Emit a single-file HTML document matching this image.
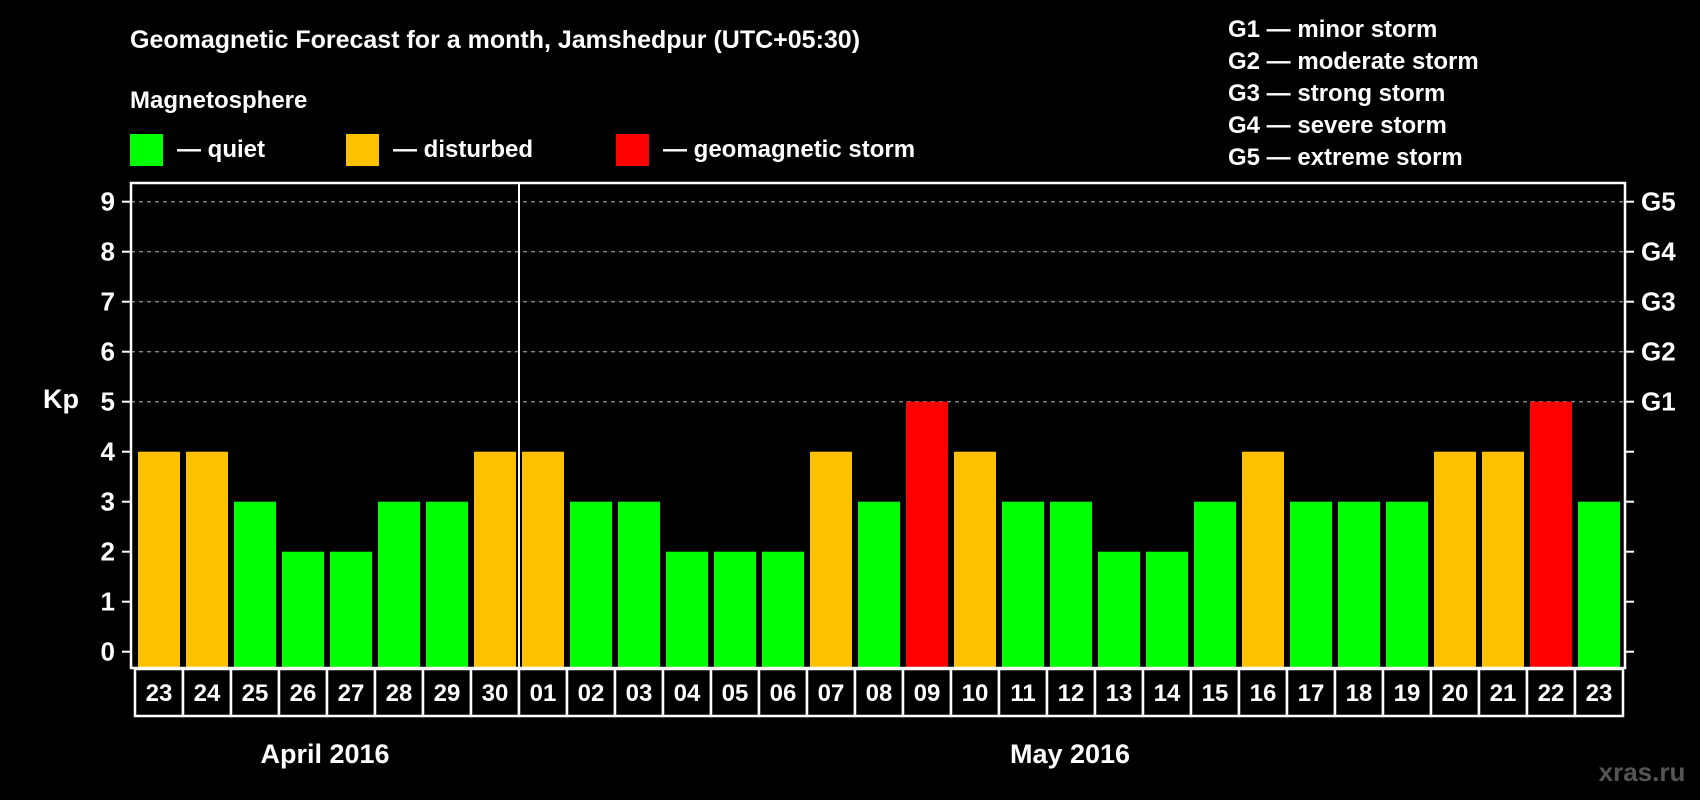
<!DOCTYPE html>
<html><head><meta charset="utf-8"><style>
html,body{margin:0;padding:0;background:#000;}
svg{display:block;font-family:"Liberation Sans",Arial,sans-serif;font-weight:bold;}
</style></head><body>
<svg id="chart" width="1700" height="800" viewBox="0 0 1700 800" xmlns="http://www.w3.org/2000/svg">
<rect width="1700" height="800" fill="#000"/>
<text x="130" y="48" fill="#fff" font-size="25">Geomagnetic Forecast for a month, Jamshedpur (UTC+05:30)</text>
<text x="130" y="108" fill="#fff" font-size="24">Magnetosphere</text>
<g><rect x="130" y="134" width="33" height="32" fill="#00ff00"/><text x="177" y="157" fill="#fff" font-size="24">— quiet</text></g>
<g><rect x="346" y="134" width="33" height="32" fill="#ffc000"/><text x="393" y="157" fill="#fff" font-size="24">— disturbed</text></g>
<g><rect x="616" y="134" width="33" height="32" fill="#ff0000"/><text x="663" y="157" fill="#fff" font-size="24">— geomagnetic storm</text></g>
<g fill="#fff" font-size="24">
<text x="1228" y="37">G1 — minor storm</text>
<text x="1228" y="69">G2 — moderate storm</text>
<text x="1228" y="101">G3 — strong storm</text>
<text x="1228" y="133">G4 — severe storm</text>
<text x="1228" y="165">G5 — extreme storm</text>
</g>
<text x="43" y="408" fill="#fff" font-size="27">Kp</text>
<g id="grid"></g>
<g id="bars"></g>
<rect x="131" y="183" width="1494" height="485" fill="none" stroke="#fff" stroke-width="2.5"/>
<line x1="519" y1="183" x2="519" y2="668" stroke="#fff" stroke-width="2"/>
<g id="axes"></g>
<g id="dates"></g>
<text x="325" y="763" fill="#fff" font-size="27" text-anchor="middle">April 2016</text>
<text x="1070" y="763" fill="#fff" font-size="27" text-anchor="middle">May 2016</text>
<text x="1642" y="781" fill="#555" font-size="26" text-anchor="middle">xras.ru</text>
</svg>
<script>
const days = ["23","24","25","26","27","28","29","30","01","02","03","04","05","06","07","08","09","10","11","12","13","14","15","16","17","18","19","20","21","22","23"];
const kp = [4,4,3,2,2,3,3,4,4,3,3,2,2,2,4,3,5,4,3,3,2,2,3,4,3,3,3,4,4,5,3];
const yTicks = [0,1,2,3,4,5,6,7,8,9];
const gLabels = ["G1","G2","G3","G4","G5"];
const NS="http://www.w3.org/2000/svg";
const x0=135, slot=48, y0=651.7, unit=50;
const xs=i=>x0+i*slot;
const ys=v=>y0-v*unit;
function mk(tag,attrs,parent,txt){const e=document.createElementNS(NS,tag);for(const k in attrs)e.setAttribute(k,attrs[k]);if(txt!==undefined)e.textContent=txt;parent.appendChild(e);return e;}
const grid=document.getElementById('grid'),bars=document.getElementById('bars'),axes=document.getElementById('axes'),dates=document.getElementById('dates');
yTicks.forEach(v=>{
  if(v>=5){const l=mk('line',{x1:131,x2:1625,y1:ys(v),y2:ys(v),stroke:'#888','stroke-width':1.3,'stroke-dasharray':'4,4'},grid);
  
  }
  const t=mk('line',{x1:122,x2:131,y1:ys(v),y2:ys(v),stroke:'#fff','stroke-width':2},axes);
  
  
  const tr=mk('line',{x1:1625,x2:1634,y1:ys(v),y2:ys(v),stroke:'#fff','stroke-width':2},axes);
  
  
  const lb=mk('text',{x:115,y:ys(v)+9,fill:'#fff','font-size':26,'text-anchor':'end'},axes,String(v));
  
  
});
gLabels.forEach((g,i)=>{
  const t=mk('text',{x:1641,y:ys(5+i)+9,fill:'#fff','font-size':26},axes,g);
  
  
});
kp.forEach((v,i)=>{
  const c=v>=5?'#ff0000':(v>=4?'#ffc000':'#00ff00');
  const r=mk('rect',{x:xs(i)+3,y:ys(v),width:42,height:668-ys(v),fill:c},bars);
  
  
});
days.forEach((d,i)=>{
  const b=mk('rect',{x:xs(i),y:669,width:slot,height:47,fill:'#000',stroke:'#fff','stroke-width':2.5},dates);
  
  
  const t=mk('text',{x:xs(i)+slot/2,y:701,fill:'#fff','font-size':24,'text-anchor':'middle'},dates,d);
  
  
});
</script>
</body></html>
